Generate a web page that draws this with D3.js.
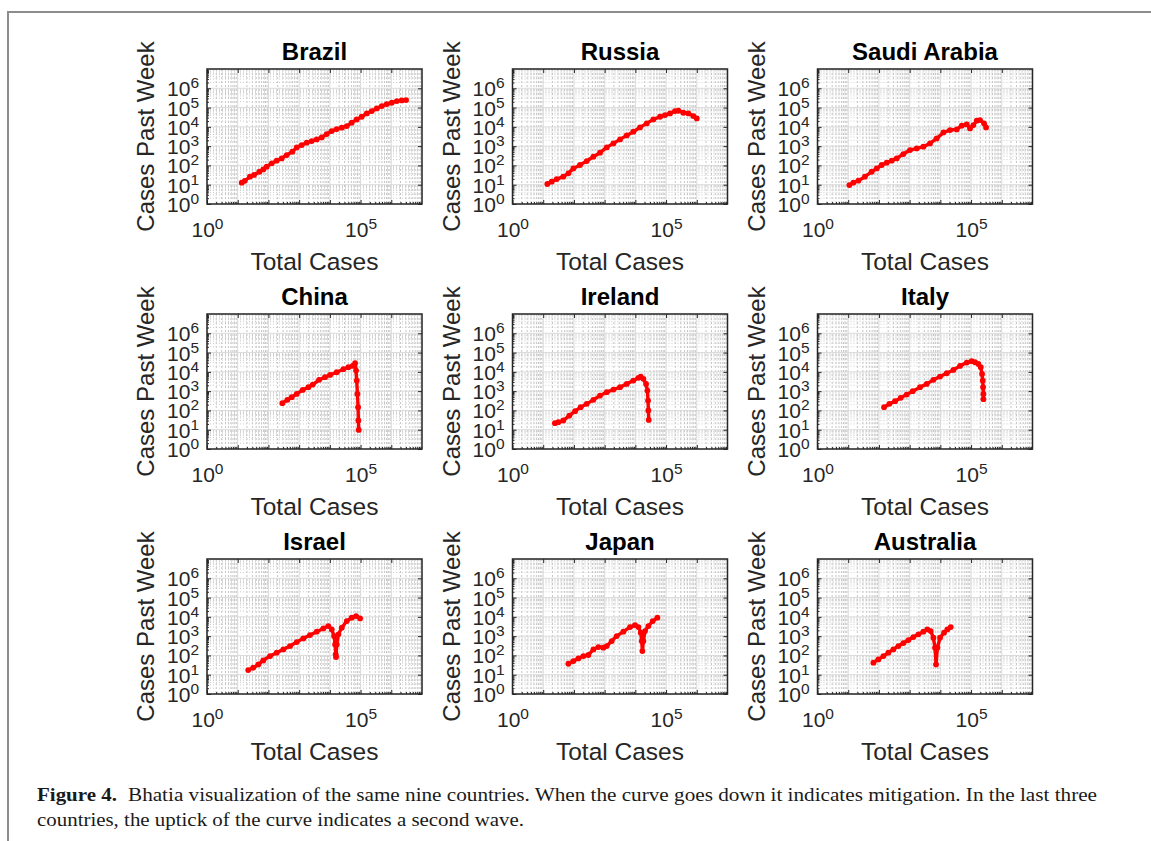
<!DOCTYPE html>
<html>
<head>
<meta charset="utf-8">
<script src="https://cdn.jsdelivr.net/npm/d3@7"></script>
<style>
  body { margin: 0; background: #fff; }
  .sans { font-family: "Liberation Sans", Arial, sans-serif; }
  .serif { font-family: "Liberation Serif", "DejaVu Serif", serif; }
</style>
</head>
<body>
<div class="svg-mount"></div>
<script>
const countries = ["Brazil", "Russia", "Saudi Arabia", "China", "Ireland", "Italy", "Israel", "Japan", "Australia"];

// total cases (x) and cases in the past week (y)
const brazilTotal = [13.5, 17, 25, 34, 51, 68, 88, 128, 186, 270, 394, 603, 834, 1210, 1760, 2560, 3730, 5430, 7910, 11500, 16700, 24400, 35500, 51500, 75000, 109000, 159000, 231000, 337000, 490000, 713000, 1035000, 1510000, 2190000, 3030000];
const brazilWeek = [12.7, 16, 26, 32, 47, 62, 86, 128, 176, 232, 346, 515, 863, 1140, 1510, 1840, 2240, 2840, 4240, 6050, 7690, 9020, 11000, 16400, 24400, 33500, 49900, 65900, 90600, 120000, 152000, 178000, 217000, 235000, 245000];

const russiaTotal = [13.6, 18.9, 27.5, 45, 66, 96, 158, 261, 430, 708, 1170, 1930, 3180, 5240, 8630, 14200, 23400, 38600, 63800, 92700, 135000, 196000, 252000, 367000, 533000, 776000, 998000];
const russiaWeek = [10.9, 14.4, 19.7, 26, 39, 70, 105, 169, 283, 457, 863, 1390, 2240, 3610, 5600, 9380, 15100, 24400, 33500, 40800, 49900, 65900, 68600, 54000, 49900, 36300, 27500];

const saudiTotal = [10.9, 14.7, 21.4, 35, 58, 85, 123, 179, 261, 379, 625, 1030, 1700, 2800, 4610, 7620, 12600, 20700, 34100, 49700, 72300, 92700, 119000, 153000, 196000, 265000, 308000];
const saudiWeek = [9.6, 12.7, 16.2, 26, 47, 70, 105, 139, 176, 232, 390, 628, 766, 935, 1390, 2520, 5160, 6820, 7400, 11500, 13400, 8340, 12400, 20800, 22500, 15100, 9380];

const chinaTotal = [284, 414, 573, 834, 1310, 2000, 2770, 4450, 6980, 10200, 16700, 27600, 40200, 55600, 66200, 71300, 75000, 78900, 83000, 84900, 87100];
const chinaWeek = [237, 353, 485, 721, 1160, 1600, 2200, 3840, 5270, 6970, 9570, 13700, 17400, 20400, 28000, 11700, 3540, 721, 147, 30, 9.8];

const irelandTotal = [24, 31, 45, 71, 109, 166, 261, 430, 708, 1170, 1930, 3180, 5240, 8630, 12600, 15000, 18300, 22300, 24700, 25900, 26500, 27300];
const irelandWeek = [21.8, 24.5, 30, 54, 91, 147, 219, 353, 592, 881, 1210, 1600, 2380, 3540, 4880, 5700, 4330, 2380, 1070, 326, 99, 32];

const italyTotal = [147, 219, 334, 512, 802, 1260, 2180, 3600, 5930, 9770, 16100, 26600, 43900, 72300, 105000, 135000, 173000, 207000, 228000, 240000, 246000, 252000, 252500];
const italyWeek = [147, 219, 301, 448, 667, 993, 1600, 2380, 3840, 5700, 8490, 12600, 20400, 30300, 35600, 31500, 25900, 17400, 7850, 3540, 1600, 721, 382];

const israelTotal = [22, 32, 47, 68, 113, 186, 306, 506, 834, 1370, 2260, 3730, 6150, 8950, 11500, 13700, 14800, 15500, 15900, 16700, 19000, 24400, 35500, 51500, 71300, 96400];
const israelWeek = [17.5, 23, 34, 55, 93, 139, 206, 307, 494, 766, 1140, 1700, 2520, 3330, 2240, 1010, 374, 114, 83, 374, 1240, 2740, 6050, 9020, 11000, 8340];

const japanTotal = [66, 96, 140, 203, 295, 430, 625, 910, 1170, 1700, 2470, 4070, 6710, 9770, 12600, 15000, 16100, 16900, 18300, 20700, 26500, 36800, 52200];
const japanWeek = [37, 51, 70, 93, 105, 206, 272, 252, 307, 557, 1010, 1700, 2960, 3760, 2960, 1510, 557, 169, 557, 1840, 3330, 6050, 9020];

const australiaTotal = [66, 96, 140, 203, 295, 430, 625, 910, 1320, 1930, 2800, 3780, 4850, 5930, 6710, 7240, 8000, 9770, 13200, 16900, 21800];
const australiaWeek = [42, 62, 93, 139, 206, 307, 439, 628, 897, 1240, 1700, 2240, 1840, 830, 252, 34, 252, 830, 1510, 2240, 2970];

const yTickValues = [1e0, 1e1, 1e2, 1e3, 1e4, 1e5, 1e6];
const xTickValues = [1e0, 1e5];
const axisDomain = [1, 1e7];

const captionBold = "Figure 4.";
const captionLine1 = "Bhatia visualization of the same nine countries. When the curve goes down it indicates mitigation. In the last three";
const captionLine2 = "countries, the uptick of the curve indicates a second wave.";

const series = {
  "Brazil": [brazilTotal, brazilWeek],
  "Russia": [russiaTotal, russiaWeek],
  "Saudi Arabia": [saudiTotal, saudiWeek],
  "China": [chinaTotal, chinaWeek],
  "Ireland": [irelandTotal, irelandWeek],
  "Italy": [italyTotal, italyWeek],
  "Israel": [israelTotal, israelWeek],
  "Japan": [japanTotal, japanWeek],
  "Australia": [australiaTotal, australiaWeek],
};

const actual_width = 1151;
const actual_height = 841;
const panelLefts = [207, 512.5, 817.5];
const panelTops = [69, 314, 559];
const panelW = 215;
const panelH = 135;
const ink = "#262626";

// minor log ticks 2..9 in each decade
const minorValues = [];
for (let e = 0; e < 7; e++) {
  for (let m = 2; m <= 9; m++) minorValues.push(m * Math.pow(10, e));
}
const decadeValues = [1e0, 1e1, 1e2, 1e3, 1e4, 1e5, 1e6, 1e7];

const svg = d3
  .select(".svg-mount")
  .append("svg")
  .attr("width", actual_width)
  .attr("height", actual_height);

svg.append("rect").attr("width", actual_width).attr("height", actual_height).attr("fill", "#fff");

// page frame
svg
  .append("path")
  .attr("d", `M8,${actual_height} V12 H${actual_width}`)
  .attr("fill", "none")
  .attr("stroke", "#8c8c8c")
  .attr("stroke-width", 2);

function powerLabels(sel) {
  sel.selectAll(".tick text").each(function (d) {
    const t = d3.select(this);
    const exp = Math.round(Math.log10(d));
    t.text(null).attr("class", "sans").attr("fill", ink).attr("font-size", 21);
    t.append("tspan").text("10");
    t.append("tspan").attr("dy", -8).attr("font-size", 15.5).text(exp);
  });
}

function drawPanel(name, i) {
  const col = i % 3;
  const row = Math.floor(i / 3);
  const g = svg
    .append("g")
    .attr("transform", `translate(${panelLefts[col]},${panelTops[row]})`);

  const x = d3.scaleLog().domain(axisDomain).range([0, panelW]);
  const y = d3.scaleLog().domain(axisDomain).range([panelH, 0]);

  // grid
  const grid = g.append("g");
  grid
    .selectAll("line.vminor")
    .data(minorValues)
    .join("line")
    .attr("x1", (d) => x(d))
    .attr("x2", (d) => x(d))
    .attr("y1", 0)
    .attr("y2", panelH)
    .attr("stroke", "#c6c6c6")
    .attr("stroke-dasharray", "2,2");
  grid
    .selectAll("line.hminor")
    .data(minorValues)
    .join("line")
    .attr("y1", (d) => y(d))
    .attr("y2", (d) => y(d))
    .attr("x1", 0)
    .attr("x2", panelW)
    .attr("stroke", "#cdcdcd")
    .attr("stroke-dasharray", "1,2");
  grid
    .selectAll("line.vmajor")
    .data(decadeValues)
    .join("line")
    .attr("x1", (d) => x(d))
    .attr("x2", (d) => x(d))
    .attr("y1", 0)
    .attr("y2", panelH)
    .attr("stroke", "#dadada");
  grid
    .selectAll("line.hmajor")
    .data(decadeValues)
    .join("line")
    .attr("y1", (d) => y(d))
    .attr("y2", (d) => y(d))
    .attr("x1", 0)
    .attr("x2", panelW)
    .attr("stroke", "#dadada");

  // data
  const [tot, wk] = series[name];
  const pts = tot.map((v, k) => [v, wk[k]]);
  g.append("path")
    .datum(pts)
    .attr("fill", "none")
    .attr("stroke", "#ff0000")
    .attr("stroke-width", 3.4)
    .attr("stroke-linejoin", "round")
    .attr("stroke-linecap", "round")
    .attr("d", d3.line().x((d) => x(d[0])).y((d) => y(d[1])));
  g.append("g")
    .selectAll("circle")
    .data(pts)
    .join("circle")
    .attr("cx", (d) => x(d[0]))
    .attr("cy", (d) => y(d[1]))
    .attr("r", 2.9)
    .attr("fill", "#ff0000");

  // axes with inward ticks
  const left = g.append("g").call(
    d3.axisLeft(y).tickValues(yTickValues).tickSize(-4).tickSizeOuter(0).tickPadding(8)
  );
  left.selectAll(".tick text").attr("dy", "0.36em");
  powerLabels(left);

  const bottom = g
    .append("g")
    .attr("transform", `translate(0,${panelH})`)
    .call(d3.axisBottom(x).tickValues(decadeValues.slice(0, 7)).tickSize(-4).tickSizeOuter(0).tickPadding(18)
      .tickFormat((d) => (xTickValues.includes(d) ? d : "")));
  bottom.selectAll(".tick text").filter((d) => !xTickValues.includes(d)).remove();
  powerLabels(bottom);

  g.append("g").call(d3.axisTop(x).tickValues(decadeValues.slice(0, 7)).tickSize(-4).tickSizeOuter(0).tickFormat(""));
  g.append("g")
    .attr("transform", `translate(${panelW},0)`)
    .call(d3.axisRight(y).tickValues(yTickValues).tickSize(-4).tickSizeOuter(0).tickFormat(""));

  // minor ticks
  g.append("g").call(d3.axisLeft(y).tickValues(minorValues).tickSize(-2).tickSizeOuter(0).tickFormat(""));
  g.append("g").attr("transform", `translate(0,${panelH})`)
    .call(d3.axisBottom(x).tickValues(minorValues).tickSize(-2).tickSizeOuter(0).tickFormat(""));

  g.selectAll(".domain").remove();
  g.selectAll(".tick line").attr("stroke", ink);

  g.append("rect")
    .attr("width", panelW)
    .attr("height", panelH)
    .attr("fill", "none")
    .attr("stroke", ink)
    .attr("stroke-width", 1.5);

  // labels
  g.append("text")
    .attr("class", "sans")
    .attr("x", panelW / 2)
    .attr("y", -9.5)
    .attr("text-anchor", "middle")
    .attr("font-size", 24)
    .attr("font-weight", "bold")
    .attr("fill", "#000")
    .text(name);
  g.append("text")
    .attr("class", "sans")
    .attr("x", panelW / 2)
    .attr("y", panelH + 66)
    .attr("text-anchor", "middle")
    .attr("font-size", 24.5)
    .attr("fill", ink)
    .text("Total Cases");
  g.append("text")
    .attr("class", "sans")
    .attr("transform", `translate(-53,${panelH / 2}) rotate(-90)`)
    .attr("text-anchor", "middle")
    .attr("font-size", 24)
    .attr("fill", ink)
    .text("Cases Past Week");
}

countries.forEach(drawPanel);

// caption
const cap = svg
  .append("text")
  .attr("class", "serif")
  .attr("x", 37)
  .attr("y", 800.5)
  .attr("font-size", 19)
  .attr("fill", "#1a1a1a");
cap.append("tspan").attr("font-weight", "bold").attr("textLength", 80).attr("lengthAdjust", "spacingAndGlyphs").text(captionBold);
cap.append("tspan").attr("x", 128).attr("textLength", 969).attr("lengthAdjust", "spacingAndGlyphs").text(captionLine1);
svg
  .append("text")
  .attr("class", "serif")
  .attr("x", 37)
  .attr("y", 825.5)
  .attr("font-size", 19)
  .attr("fill", "#1a1a1a")
  .attr("textLength", 487)
  .attr("lengthAdjust", "spacingAndGlyphs")
  .text(captionLine2);
</script>
</body>
</html>
